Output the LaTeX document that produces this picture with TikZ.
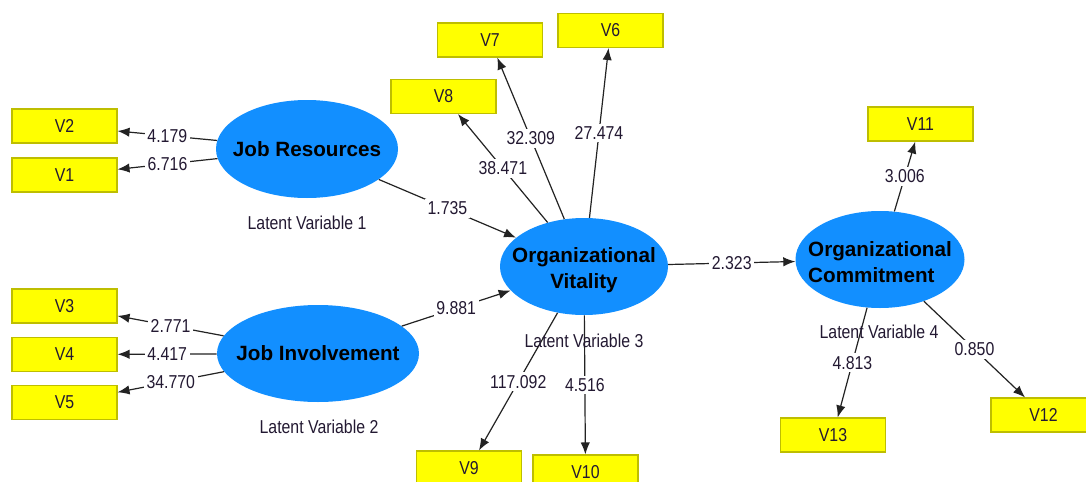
\documentclass[tikz,border=0pt]{standalone}
\usepackage{fontspec}
\setmainfont{Liberation Sans}
\newfontfamily\narrowf[FakeStretch=0.85]{Liberation Sans}
\usetikzlibrary{shapes.geometric,arrows.meta}
\definecolor{lvblue}{RGB}{18,143,255}
\definecolor{boxyellow}{RGB}{255,255,0}
\definecolor{boxborder}{RGB}{190,190,0}
\definecolor{txt}{RGB}{35,25,50}
\definecolor{edge}{RGB}{35,35,35}
\tikzset{
  mv/.style={draw=boxborder, line width=0.8pt, fill=boxyellow, minimum width=78.75pt, minimum height=25.5pt, inner sep=0pt, font=\narrowf\fontsize{14}{16}\selectfont, text=txt},
  lv/.style={ellipse, fill=lvblue, inner sep=0pt},
  lvtext/.style={font=\bfseries\fontsize{15.5}{19.5}\selectfont, text=black},
  lvname/.style={font=\narrowf\fontsize{14}{16}\selectfont, text=txt, inner sep=0pt},
  val/.style={fill=white, inner sep=2pt, font=\narrowf\fontsize{14}{16}\selectfont, text=txt, midway},
  arr/.style={-{Latex[length=9pt,width=7pt]}, draw=edge, line width=0.9pt}
}
\begin{document}
\begin{tikzpicture}[x=0.75pt,y=-0.75pt]
\clip (0,0) rectangle (1086,482);
\fill[white] (0,0) rectangle (1086,482);
% latent variables
\node[lv, minimum width=136.5pt, minimum height=73.5pt, label={[lvtext, name=jrt]center:Job Resources}] (jr) at (307,149) {};
\node[lv, minimum width=151.5pt, minimum height=72.75pt, label={[lvtext, name=jit]center:Job Involvement}] (ji) at (318,353.5) {};
\node[lv, minimum width=126pt, minimum height=72.75pt, label={[lvtext, align=center, name=ovt, yshift=-3pt]center:Organizational\\Vitality}] (ov) at (584,266.5) {};
\node[lv, minimum width=126.75pt, minimum height=72.75pt, label={[lvtext, align=left, name=oct, yshift=-2pt]center:Organizational\\Commitment}] (oc) at (880,259.5) {};
% manifest variables
\node[mv] (v1) at (64.5,175) {V1};
\node[mv] (v2) at (64.5,126) {V2};
\node[mv] (v3) at (64.5,306) {V3};
\node[mv] (v4) at (64.5,354.5) {V4};
\node[mv] (v5) at (64.5,402.5) {V5};
\node[mv] (v6) at (610.5,30.5) {V6};
\node[mv] (v7) at (490,40) {V7};
\node[mv] (v8) at (443.5,96.5) {V8};
\node[mv] (v9) at (469,468) {V9};
\node[mv] (v10) at (585.5,472) {V10};
\node[mv] (v11) at (920.5,124) {V11};
\node[mv] (v12) at (1043.5,415) {V12};
\node[mv] (v13) at (833,435) {V13};
% connectors
\draw[arr] (jr) -- node[val] (e1) {4.179} (v2);
\draw[arr] (jr) -- node[val] (e2) {6.716} (v1);
\draw[arr] (ji) -- node[val] (e3) {2.771} (v3);
\draw[arr] (ji) -- node[val] (e4) {4.417} (v4);
\draw[arr] (ji) -- node[val] (e5) {34.770} (v5);
\draw[arr] (jr) -- node[val] (e6) {1.735} (ov);
\draw[arr] (ji) -- node[val] (e7) {9.881} (ov);
\draw[arr] (ov) -- node[val] (e8) {2.323} (oc);
\draw[arr] (ov) -- node[val] (e9) {38.471} (v8);
\draw[arr] (ov) -- node[val] (e10) {32.309} (v7);
\draw[arr] (ov) -- node[val] (e11) {27.474} (v6);
\draw[arr] (ov) -- node[val] (e12) {117.092} (v9);
\draw[arr] (ov) -- node[val] (e13) {4.516} (v10);
\draw[arr] (oc) -- node[val] (e14) {3.006} (v11);
\draw[arr] (oc) -- node[val] (e15) {0.850} (v12);
\draw[arr] (oc) -- node[val] (e16) {4.813} (v13);
% latent variable names
\node[lvname] (lv1) at (307,223) {Latent Variable 1};
\node[lvname] (lv2) at (319,427) {Latent Variable 2};
\node[lvname] (lv3) at (584,341) {Latent Variable 3};
\node[lvname] (lv4) at (879,332) {Latent Variable 4};
\end{tikzpicture}
\end{document}
